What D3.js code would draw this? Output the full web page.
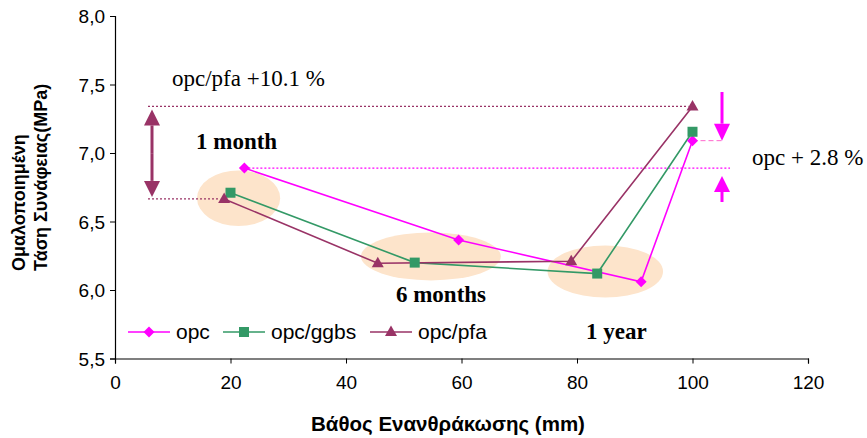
<!DOCTYPE html>
<html>
<head>
<meta charset="utf-8">
<script src="https://cdn.jsdelivr.net/npm/d3@7"></script>
<style>
  html, body { margin: 0; padding: 0; background: #fff; }
  svg { display: block; }
</style>
</head>
<body>
<svg id="chart" width="867" height="438"></svg>
<script>
// ---- data ----
const seriesNames = ["opc", "opc/ggbs", "opc/pfa"];
const opcDepth  = [22.4, 59.5, 91.1, 100];
const opcBond   = [6.89, 6.365, 6.06, 7.09];
const ggbsDepth = [20.0, 51.9, 83.5, 100];
const ggbsBond  = [6.71, 6.20, 6.12, 7.155];
const pfaDepth  = [18.9, 45.5, 79.0, 100];
const pfaBond   = [6.665, 6.195, 6.21, 7.34];
const xTicks = [0, 20, 40, 60, 80, 100, 120];
const yTicks = [5.5, 6.0, 6.5, 7.0, 7.5, 8.0];
// age groups (ellipses): centre depth, centre bond, half-width (mm), half-height (MPa)
const groupLabels = ["1 month", "6 months", "1 year"];
const groupCx = [21.4, 54.7, 84.9];
const groupCy = [6.67, 6.245, 6.135];
const groupRx = [7.2, 12.1, 10.0];
const groupRy = [0.203, 0.175, 0.19];

const colors = {"opc": "#FF00FF", "opc/ggbs": "#339966", "opc/pfa": "#993366"};
const series = [
  {name: "opc", xs: opcDepth, ys: opcBond, marker: "diamond"},
  {name: "opc/ggbs", xs: ggbsDepth, ys: ggbsBond, marker: "square"},
  {name: "opc/pfa", xs: pfaDepth, ys: pfaBond, marker: "triangle"}
];

const svg = d3.select("#chart");
const x = d3.scaleLinear().domain([0, 120]).range([115, 808]);
const y = d3.scaleLinear().domain([5.5, 8.0]).range([358.5, 16]);

// ellipses
const eg = svg.append("g");
groupLabels.forEach((g, i) => {
  eg.append("ellipse")
    .attr("cx", x(groupCx[i])).attr("cy", y(groupCy[i]))
    .attr("rx", x(groupRx[i]) - x(0)).attr("ry", y(0) - y(groupRy[i]))
    .attr("fill", "#FDE4CB");
});

// axes
const xAxis = d3.axisBottom(x).tickValues(xTicks).tickSize(5).tickPadding(12).tickFormat(d3.format("d"));
const yAxis = d3.axisLeft(y).tickValues(yTicks).tickSize(5).tickPadding(5).tickFormat(d => d.toFixed(1).replace(".", ","));
const gx = svg.append("g").attr("transform", `translate(0,${y(5.5)})`).call(xAxis);
const gy = svg.append("g").attr("transform", `translate(${x(0)},0)`).call(yAxis);
[gx, gy].forEach(g => {
  g.select(".domain").attr("stroke", "#000").attr("stroke-width", 1.2);
  g.selectAll(".tick line").attr("stroke", "#000");
  g.selectAll(".tick text").attr("font-family", "Liberation Sans, Arial, sans-serif").attr("font-size", 19).attr("fill", "#000");
});
gy.selectAll(".tick text").attr("dy", "0.36em");

// dotted reference lines
const ann = svg.append("g");
function dotted(x1, x2, yy, col) {
  ann.append("line").attr("x1", x1).attr("x2", x2).attr("y1", yy).attr("y2", yy)
    .attr("stroke", col).attr("stroke-width", 1.2).attr("stroke-dasharray", "2,2");
}
dotted(148, x(pfaDepth[3]) - 4, y(pfaBond[3]), colors["opc/pfa"]);
dotted(148, x(pfaDepth[0]) - 4, y(pfaBond[0]), colors["opc/pfa"]);
dotted(x(opcDepth[0]), 730, y(opcBond[0]), colors["opc"]);
ann.append("line").attr("x1", x(opcDepth[3])).attr("x2", 722).attr("y1", y(opcBond[3])).attr("y2", y(opcBond[3]))
  .attr("stroke", "#FF66CC").attr("stroke-width", 1).attr("stroke-dasharray", "5,3");

// series lines
const line = d3.line().x(d => x(d[0])).y(d => y(d[1]));
series.forEach(s => {
  const pts = s.xs.map((v, i) => [v, s.ys[i]]);
  svg.append("path").datum(pts).attr("d", line).attr("fill", "none")
    .attr("stroke", colors[s.name]).attr("stroke-width", 1.6);
});

// markers
function diamondPath(cx, cy, r) { return `M${cx},${cy - r}L${cx + r},${cy}L${cx},${cy + r}L${cx - r},${cy}Z`; }
function marker(g, type, cx, cy, col) {
  if (type === "diamond") {
    g.append("path").attr("d", diamondPath(cx, cy, 5.5)).attr("fill", col);
  } else if (type === "square") {
    g.append("rect").attr("x", cx - 5).attr("y", cy - 5).attr("width", 10).attr("height", 10).attr("fill", col);
  } else {
    g.append("path").attr("d", `M${cx},${cy - 6.5}L${cx + 6},${cy + 4}L${cx - 6},${cy + 4}Z`).attr("fill", col);
  }
}
const mg = svg.append("g");
series.forEach(s => {
  s.xs.forEach((v, i) => marker(mg, s.marker, x(v), y(s.ys[i]), colors[s.name]));
});

// arrows
function arrow(xx, yFrom, yTo, col, headLen, headHalf) {
  const dir = yTo > yFrom ? 1 : -1;
  ann.append("line").attr("x1", xx).attr("x2", xx).attr("y1", yFrom).attr("y2", yTo - dir * headLen)
    .attr("stroke", col).attr("stroke-width", 3);
  ann.append("path").attr("d", `M${xx},${yTo}L${xx + headHalf},${yTo - dir * headLen}L${xx - headHalf},${yTo - dir * headLen}Z`).attr("fill", col);
}
const pfaTop = y(pfaBond[3]) + 3, pfaBot = y(pfaBond[0]) - 2;
const mid = (pfaTop + pfaBot) / 2;
arrow(152, mid, pfaTop, colors["opc/pfa"], 16, 8);
arrow(152, mid, pfaBot, colors["opc/pfa"], 16, 8);
arrow(722, 92, y(opcBond[3]), colors["opc"], 17, 8);
arrow(722, 202, 176, colors["opc"], 16, 8);

// annotation texts
const serif = "Liberation Serif, Times New Roman, serif";
svg.append("text").attr("x", 172).attr("y", 86).attr("font-family", serif).attr("font-size", 23).text("opc/pfa +10.1 %");
svg.append("text").attr("x", 752).attr("y", 165).attr("font-family", serif).attr("font-size", 23).text("opc + 2.8 %");
const glab = [[196, 149, "start"], [441, 302, "middle"], [586, 339, "start"]];
groupLabels.forEach((g, i) => {
  svg.append("text").attr("x", glab[i][0]).attr("y", glab[i][1]).attr("text-anchor", glab[i][2])
    .attr("font-family", serif).attr("font-weight", "bold").attr("font-size", 23).text(g);
});

// legend
const legX = [128, 223, 370];
const lg = svg.append("g");
series.forEach((s, i) => {
  const lx = legX[i], ly = 332;
  lg.append("line").attr("x1", lx).attr("x2", lx + 42).attr("y1", ly).attr("y2", ly)
    .attr("stroke", colors[s.name]).attr("stroke-width", 1.6);
  marker(lg, s.marker, lx + 21, ly, colors[s.name]);
  lg.append("text").attr("x", lx + 48).attr("y", ly + 7).attr("font-family", "Liberation Sans, Arial, sans-serif")
    .attr("font-size", 21).text(s.name);
});

// axis titles
const sans = "Liberation Sans, Arial, sans-serif";
svg.append("text").attr("x", 448).attr("y", 431).attr("text-anchor", "middle").attr("font-family", sans)
  .attr("font-weight", "bold").attr("font-size", 20.5).text("Βάθος Ενανθράκωσης (mm)");
svg.append("text").attr("transform", "translate(25,271) rotate(-90)").attr("font-family", sans)
  .attr("font-weight", "bold").attr("font-size", 18).text("Ομαλοποιημένη");
svg.append("text").attr("transform", "translate(47,271) rotate(-90)").attr("font-family", sans)
  .attr("font-weight", "bold").attr("font-size", 18).text("Τάση Συνάφειας(MPa)");
</script>
</body>
</html>
